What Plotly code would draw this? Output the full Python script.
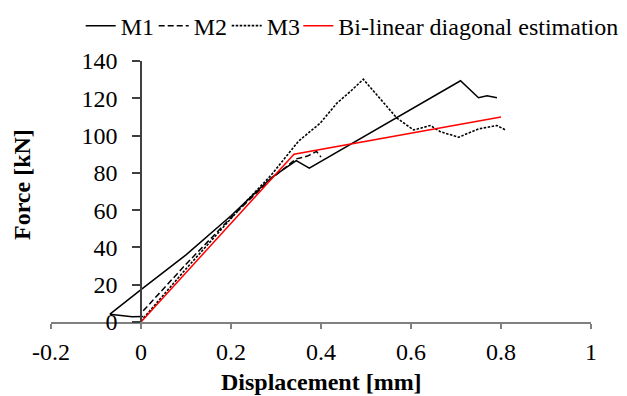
import plotly.graph_objects as go

# ---- data ----
m1_x = [0.005, -0.02, -0.069, 0.0, 0.1, 0.2, 0.29, 0.345, 0.374, 0.71, 0.75, 0.769, 0.791]
m1_y = [3.0, 2.8, 4.2, 17.4, 36.0, 57.0, 77.5, 86.6, 82.5, 129.4, 120.3, 121.3, 120.3]

m2_x = [0.005, 0.1, 0.2, 0.29, 0.345, 0.37, 0.39, 0.40]
m2_y = [6.0, 31.0, 56.0, 77.0, 87.5, 89.0, 91.5, 88.5]

m3_x = [0.0, 0.1, 0.2, 0.235, 0.29, 0.35, 0.398, 0.435, 0.465, 0.494, 0.569, 0.606,
        0.643, 0.665, 0.706, 0.75, 0.791, 0.81]
m3_y = [0.5, 28.5, 55.5, 65.0, 79.0, 97.0, 106.6, 117.3, 123.6, 130.2, 109.3, 103.0,
        105.4, 102.1, 99.1, 103.6, 105.4, 103.0]

bl_x = [0.0, 0.34, 0.80]
bl_y = [0.0, 90.0, 110.0]

x_ticks = [-0.2, 0, 0.2, 0.4, 0.6, 0.8, 1]
x_labels = ["-0.2", "0", "0.2", "0.4", "0.6", "0.8", "1"]
y_ticks = [0, 20, 40, 60, 80, 100, 120, 140]
y_labels = ["0", "20", "40", "60", "80", "100", "120", "140"]

FONT = "Liberation Serif"
FS = 24

fig = go.Figure()
fig.add_trace(go.Scatter(x=m1_x, y=m1_y, mode="lines", name="M1", legend="legend",
                         line=dict(color="black", width=1.5)))
fig.add_trace(go.Scatter(x=m2_x, y=m2_y, mode="lines", name="M2", legend="legend",
                         line=dict(color="black", width=1.5, dash="6px,3px")))
fig.add_trace(go.Scatter(x=m3_x, y=m3_y, mode="lines", name="M3", legend="legend",
                         line=dict(color="black", width=1.6, dash="2.5px,1.5px")))
fig.add_trace(go.Scatter(x=bl_x, y=bl_y, mode="lines", name="Bi-linear diagonal estimation",
                         legend="legend2", line=dict(color="#ff0000", width=1.5)))

legend_common = dict(orientation="h", yanchor="middle", y=1.134, xanchor="left",
                     font=dict(family=FONT, size=FS, color="black"),
                     itemwidth=30, bgcolor="rgba(0,0,0,0)")

fig.update_layout(
    width=627, height=396,
    margin=dict(l=51, r=36, t=61, b=74, autoexpand=False),
    paper_bgcolor="white", plot_bgcolor="white",
    font=dict(family=FONT, size=FS, color="black"),
    showlegend=True,
    legend=dict(**legend_common, x=0.055, entrywidth=28, entrywidthmode="pixels"),
    legend2=dict(**legend_common, x=0.458),
    xaxis=dict(range=[-0.2, 1], tickvals=x_ticks, ticktext=x_labels,
               showgrid=False, zeroline=False, showline=True, linecolor="#808080",
               linewidth=1.5, ticks="outside", ticklen=5, tickcolor="#808080",
               tickwidth=1.5, ticklabelstandoff=2,
               tickfont=dict(family=FONT, size=FS, color="black")),
    yaxis=dict(range=[0, 140], tickvals=y_ticks, ticktext=y_labels,
               anchor="free", position=0.2 / 1.2,
               showgrid=False, zeroline=False, showline=True, linecolor="#404040",
               linewidth=1.5, ticks="outside", ticklen=8, tickcolor="#404040",
               tickwidth=1.5, ticklabelstandoff=10,
               tickfont=dict(family=FONT, size=FS, color="black")),
    annotations=[
        dict(text="<b>Displacement [mm]</b>", xref="paper", yref="paper",
             x=0.5, y=-0.231, xanchor="center", yanchor="middle", showarrow=False,
             font=dict(family=FONT, size=FS, color="black")),
        dict(text="<b>Force [kN]</b>", xref="paper", yref="paper",
             x=-0.055, y=0.526, xanchor="center", yanchor="middle", showarrow=False,
             textangle=-90, font=dict(family=FONT, size=FS, color="black")),
    ],
)

fig.write_html("out.html")
